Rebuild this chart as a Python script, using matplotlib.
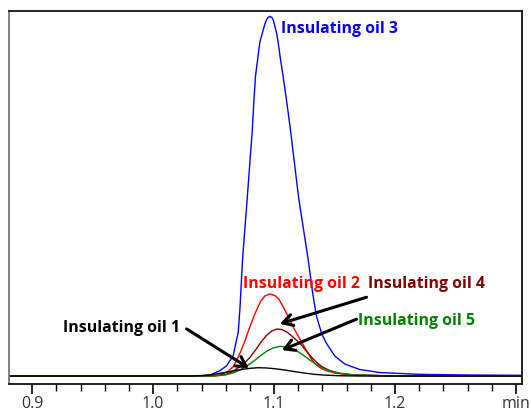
import matplotlib
matplotlib.use("Agg")
import matplotlib.pyplot as plt

# ---- data (retention time in min, relative intensity) ----
oil3_t = [0.8805, 1.0386, 1.0469, 1.0551, 1.0607, 1.0661, 1.0703, 1.0717, 1.0739, 1.0777,
          1.0820, 1.0832, 1.0846, 1.0863, 1.0882, 1.0898, 1.0912, 1.0923, 1.0936, 1.0948,
          1.0965, 1.0981, 1.0993, 1.1010, 1.1022, 1.1033, 1.1051, 1.1074, 1.1101, 1.1134,
          1.1204, 1.1281, 1.1320, 1.1350, 1.1394, 1.1436, 1.1502, 1.1584, 1.1708, 1.1874,
          1.2204, 1.2617, 1.3047]
oil3_v = [0.0, 0.0, 0.28, 1.47, 2.86, 5.64, 12.15, 18.63, 32.53, 49.21,
          68.67, 76.17, 83.40, 87.85, 92.86, 94.80, 96.47, 97.86, 98.97, 99.67,
          100.0, 99.67, 98.97, 96.75, 95.08, 92.86, 88.41, 83.40, 77.01, 68.67,
          49.21, 32.53, 22.80, 16.68, 11.68, 8.90, 5.56, 3.34, 1.81, 0.97,
          0.47, 0.28, 0.19]

oil2_t = [0.8805, 1.0386, 1.0510, 1.0568, 1.0617, 1.0659, 1.0692, 1.0725, 1.0758, 1.0791,
          1.0824, 1.0857, 1.0890, 1.0923, 1.0965, 1.1006, 1.1039, 1.1072, 1.1105, 1.1138,
          1.1171, 1.1204, 1.1237, 1.1270, 1.1303, 1.1336, 1.1378, 1.1427, 1.1502, 1.1626,
          1.1874, 1.2287, 1.3047]
oil2_v = [0.0, 0.0, 0.14, 0.56, 1.25, 2.50, 4.45, 6.95, 9.73, 12.93,
          15.85, 18.49, 20.85, 22.24, 22.80, 22.38, 21.41, 19.46, 17.24, 15.01,
          12.79, 10.84, 8.90, 6.95, 5.00, 3.48, 2.36, 1.53, 0.83, 0.33,
          0.11, 0.0, 0.0]

oil4_t = [0.8805, 1.0386, 1.0510, 1.0593, 1.0650, 1.0700, 1.0750, 1.0799, 1.0849, 1.0898,
          1.0940, 1.0981, 1.1022, 1.1064, 1.1105, 1.1146, 1.1188, 1.1229, 1.1270, 1.1312,
          1.1353, 1.1394, 1.1460, 1.1543, 1.1667, 1.1915, 1.2287, 1.3047]
oil4_v = [0.0, 0.0, 0.06, 0.42, 1.11, 2.22, 3.48, 5.14, 7.37, 9.73,
          11.40, 12.51, 13.07, 12.93, 12.23, 11.12, 9.87, 8.48, 6.81, 5.14,
          3.75, 2.64, 1.53, 0.75, 0.28, 0.08, 0.0, 0.0]

oil5_t = [0.8805, 1.0386, 1.0510, 1.0593, 1.0659, 1.0717, 1.0774, 1.0832, 1.0890, 1.0940,
          1.0989, 1.1047, 1.1097, 1.1146, 1.1196, 1.1246, 1.1295, 1.1345, 1.1394, 1.1460,
          1.1543, 1.1667, 1.1915, 1.2287, 1.3047]
oil5_v = [0.0, 0.0, 0.03, 0.28, 0.83, 1.67, 2.78, 4.17, 5.70, 6.95,
          7.78, 8.26, 8.12, 7.65, 6.81, 5.70, 4.45, 3.34, 2.36, 1.45,
          0.75, 0.28, 0.08, 0.0, 0.0]

oil1_t = [0.8805, 1.0303, 1.0386, 1.0469, 1.0551, 1.0634, 1.0717, 1.0799, 1.0865, 1.0931,
          1.1006, 1.1089, 1.1171, 1.1254, 1.1336, 1.1419, 1.1543, 1.1708, 1.3047]
oil1_v = [0.0, 0.0, 0.11, 0.33, 0.75, 1.25, 1.75, 2.14, 2.31, 2.25,
          2.03, 1.67, 1.22, 0.81, 0.47, 0.25, 0.08, 0.0, 0.0]

tick_vals = [0.9, 1.0, 1.1, 1.2, 1.3]
tick_labels = ["0.9", "1.0", "1.1", "1.2", "min"]
minor_vals = [0.92, 0.94, 0.96, 0.98, 1.02, 1.04, 1.06, 1.08, 1.12, 1.14, 1.16, 1.18,
              1.22, 1.24, 1.26, 1.28]

# ---- figure ----
fig = plt.figure(figsize=(5.31, 4.14), dpi=100)
ax = fig.add_axes([0.0164, 0.070, 0.966, 0.9003])

lw = 1.0
ax.plot(oil3_t, oil3_v, color="#0000FF", lw=lw)
ax.plot(oil2_t, oil2_v, color="#FF0000", lw=lw)
ax.plot(oil4_t, oil4_v, color="#800000", lw=lw)
ax.plot(oil5_t, oil5_v, color="#008000", lw=lw)
ax.plot(oil1_t, oil1_v, color="#000000", lw=lw)

ax.set_xlim(0.8805, 1.3047)
ax.set_ylim(-2.22, 101.4)
ax.set_yticks([])
ax.set_xticks(tick_vals)
ax.set_xticklabels(tick_labels)
ax.set_xticks(minor_vals, minor=True)
ax.tick_params(axis="x", which="major", direction="out", length=7, width=1.2,
               labelsize=11.5, labelcolor="#333333", pad=1)
ax.tick_params(axis="x", which="minor", direction="out", length=5, width=1.0)
for lab in ax.get_xticklabels():
    lab.set_family("Open Sans")

for s in ax.spines.values():
    s.set_linewidth(1.3)
    s.set_color("#111111")
ax.spines["left"].set_color("#777777")

tf = dict(fontfamily="Open Sans", fontweight="bold", fontsize=11.4, va="center")
ax.text(1.1055, 96.7, "Insulating oil 3", color="#0000FF", ha="left", **tf)
ax.text(1.0741, 25.9, "Insulating oil 2", color="#FF0000", ha="left", **tf)
ax.text(1.1774, 25.9, "Insulating oil 4", color="#800000", ha="left", **tf)
ax.text(1.1692, 15.6, "Insulating oil 5", color="#008000", ha="left", **tf)
ax.text(1.0221, 13.6, "Insulating oil 1", color="#000000", ha="right", **tf)

ap = dict(arrowstyle="->,head_length=0.7,head_width=0.4", color="black", lw=2.2,
          shrinkA=0, shrinkB=0)
ax.annotate("", xy=(1.0791, 2.2), xytext=(1.0276, 13.1), arrowprops=ap)
ax.annotate("", xy=(1.1047, 14.5), xytext=(1.1764, 21.9), arrowprops=ap)
ax.annotate("", xy=(1.1064, 7.2), xytext=(1.1681, 15.8), arrowprops=ap)

fig.savefig("out.png", dpi=100)
